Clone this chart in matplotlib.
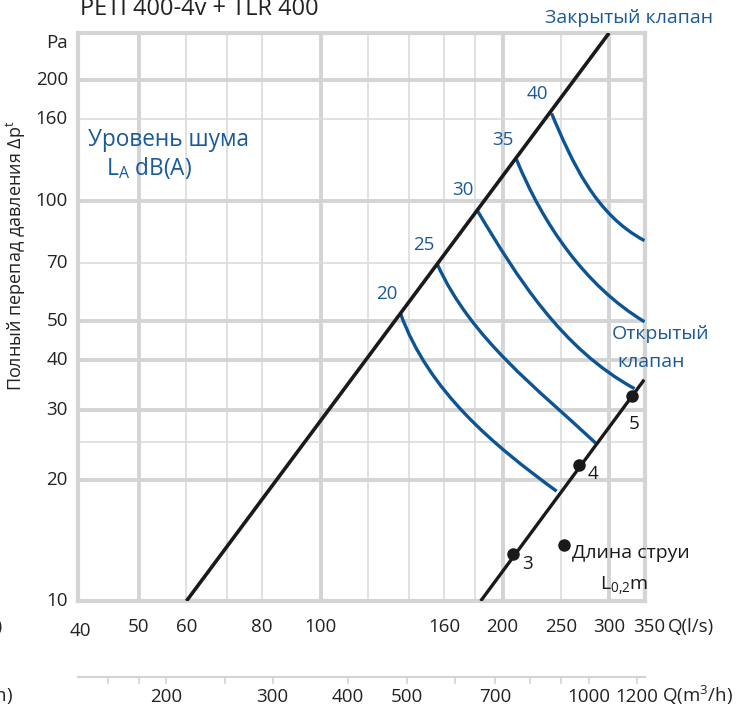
import numpy as np
import matplotlib
matplotlib.use('Agg')
import matplotlib.pyplot as plt
from matplotlib.path import Path
from matplotlib.patches import PathPatch
from matplotlib.ticker import FixedLocator, NullFormatter, FixedFormatter

plt.rcParams['font.family'] = ['Open Sans', 'DejaVu Sans']
plt.rcParams['mathtext.fontset'] = 'custom'
plt.rcParams['mathtext.rm'] = 'Open Sans'
plt.rcParams['mathtext.it'] = 'Open Sans'

BLUE = '#0d5592'
TXT_BLUE = '#1a5a98'
GRID = '#d4d4d4'
DARK = '#1a1a1a'

# axis ticks
q_ticks = [40, 50, 60, 80, 100, 160, 200, 250, 300, 350]
dp_ticks = [10, 20, 30, 40, 50, 70, 100, 160, 200]
m3h_ticks = [160, 180, 200, 250, 300, 400, 500, 600, 700, 800, 900, 1000, 1200]
m3h_labels = ['', '', '200', '', '300', '400', '500', '', '700', '', '', '1000', '1200']

# grid lines (thick = major, thin = minor)
grid_x_major = [50, 100, 200, 300]
grid_x_minor = [60, 70, 80, 120, 140, 160, 180, 250]
grid_y_major = [20, 30, 40, 50, 100, 200]
grid_y_minor = [25, 70, 160]

# valve lines
closed_q = [60, 300]
closed_dp = [10, 262]
open_q = [184, 343]
open_dp = [10, 35.7]

# noise level curves L_A dB(A): start, two inner points, end
noise_levels = ['20', '25', '30', '35', '40']
noise_q = [
    [135.6, 157.2, 193.7, 245.7],
    [156.1, 183.9, 227.4, 285.0],
    [181.2, 213.4, 258.9, 330.6],
    [210.9, 237.8, 279.6, 343.4],
    [241.0, 262.4, 293.3, 343.4],
]
noise_dp = [
    [52.2, 34.85, 24.97, 18.8],
    [69.2, 47.0, 33.8, 24.8],
    [95.0, 64.2, 44.9, 33.9],
    [126.6, 88.4, 64.1, 49.8],
    [165.0, 124.6, 96.4, 79.4],
]

# throw length points L0,2 on open valve line
throw_labels = ['3', '4', '5']
throw_q = [207.7, 268, 327]
throw_dp = [13.1, 21.9, 32.5]
legend_q, legend_dp = 252.5, 13.8


def smooth_curve(q, dp):
    # cubic bezier in log space passing through the four read points
    S, A, B, E = np.column_stack([np.log10(q), np.log10(dp)])
    P1 = (18 * A - 9 * B - 5 * S + 2 * E) / 6
    P2 = (18 * B - 9 * A + 2 * S - 5 * E) / 6
    verts = 10 ** np.array([S, P1, P2, E])
    return Path(verts, [Path.MOVETO, Path.CURVE4, Path.CURVE4, Path.CURVE4])


W, H = 749, 711
fig = plt.figure(figsize=(W / 100, H / 100), dpi=100)
ax = fig.add_axes([78 / W, 1 - 601 / H, (645 - 78) / W, (601 - 33) / H])
ax.set_xscale('log')
ax.set_yscale('log')
ax.set_xlim(39.7, 344)
ax.set_ylim(10, 262)

ax.xaxis.set_major_locator(FixedLocator(grid_x_major))
ax.xaxis.set_minor_locator(FixedLocator(grid_x_minor))
ax.yaxis.set_major_locator(FixedLocator(grid_y_major))
ax.yaxis.set_minor_locator(FixedLocator(grid_y_minor))
for a in (ax.xaxis, ax.yaxis):
    a.set_major_formatter(NullFormatter())
    a.set_minor_formatter(NullFormatter())
ax.tick_params(which='both', length=0)
ax.grid(which='major', color=GRID, lw=2.8)
ax.grid(which='minor', color='#dcdcdc', lw=1.2)
ax.set_axisbelow(True)
for s in ax.spines.values():
    s.set_color(GRID)
    s.set_linewidth(3)

# lines
ax.plot(closed_q, closed_dp, color=DARK, lw=2.6, solid_capstyle='butt', zorder=4)
ax.plot(open_q, open_dp, color=DARK, lw=2.4, solid_capstyle='butt', zorder=4)
for lev, q, dp in zip(noise_levels, noise_q, noise_dp):
    ax.add_patch(PathPatch(smooth_curve(q, dp), facecolor='none', edgecolor=BLUE,
                           lw=2.4, capstyle='butt', zorder=3))
    ax.annotate(lev, (q[0], dp[0]), xytext=(-10, 14), textcoords='offset points',
                ha='center', va='center', color=TXT_BLUE, fontsize=13.5)

ax.plot(throw_q, throw_dp, 'o', color=DARK, ms=8, zorder=5)
offs = [(11, -7), (10, -7), (2, -20)]
for lab, q, dp, o in zip(throw_labels, throw_q, throw_dp, offs):
    ax.annotate(lab, (q, dp), xytext=o, textcoords='offset points',
                ha='center', va='center', color=DARK, fontsize=13.5)
ax.plot([legend_q], [legend_dp], 'o', color=DARK, ms=8, zorder=5, clip_on=False)
ax.annotate('Длина струи', (legend_q, legend_dp), xytext=(6, -6), textcoords='offset points',
            ha='left', va='center', color=DARK, fontsize=14)
ax.annotate(r'L$_{0{,}2}$m', (legend_q, legend_dp), xytext=(26, -29), textcoords='offset points',
            ha='left', va='center', color=DARK, fontsize=14)

# tick labels
xt = ax.get_xaxis_transform()
for q in q_ticks:
    ax.text(q, -0.052 if q == 40 else -0.046, str(q), transform=xt,
            ha='center', va='center', fontsize=13.5, color='#222222')
fig.text(668 / W, 1 - 627 / H, 'Q(l/s)', ha='left', va='center', fontsize=13.5, color='#222222')
yt = ax.get_yaxis_transform()
for d in dp_ticks:
    ax.text(-0.018, d, str(d), transform=yt, ha='right', va='center', fontsize=13.5, color='#222222')
ax.text(-0.018, 247, 'Pa', transform=yt, ha='right', va='center', fontsize=13.5, color='#222222')

# second axis in m3/h
ax2 = fig.add_axes([78 / W, 1 - 677 / H, (645 - 78) / W, 0.0005])
ax2.set_xscale('log')
ax2.set_xlim(39.7 * 3.6, 344 * 3.6)
ax2.patch.set_visible(False)
for k in ('left', 'right', 'top'):
    ax2.spines[k].set_visible(False)
ax2.spines['bottom'].set_color(GRID)
ax2.spines['bottom'].set_linewidth(1.6)
ax2.set_yticks([])
ax2.xaxis.set_major_locator(FixedLocator(m3h_ticks))
ax2.xaxis.set_major_formatter(FixedFormatter(m3h_labels))
ax2.xaxis.set_minor_locator(FixedLocator([]))
ax2.tick_params(axis='x', length=5, width=1.2, color=GRID, pad=3, labelsize=13.5, labelcolor='#222222')
fig.text(662 / W, 1 - 695 / H, r'Q(m$^3$/h)', ha='left', va='center', fontsize=13.5, color='#222222')

# labels cut off at the left edge, as in the source
fig.text(3 / W, 1 - 627 / H, 'Q(l/s)', ha='right', va='center', fontsize=13.5, color='#222222')
fig.text(13 / W, 1 - 695 / H, r'Q(m$^3$/h)', ha='right', va='center', fontsize=13.5, color='#222222')

# texts
fig.text(80 / W, 1 - 15 / H, 'PETI 400-4v + TLR 400', ha='left', va='baseline', fontsize=17, color='#222222')
fig.text(16 / W, 1 - 256 / H, r'Полный перепад давления Δp$^t$', rotation=90,
         ha='center', va='center', fontsize=13, color='#222222')
fig.text(545 / W, 1 - 18 / H, 'Закрытый клапан', ha='left', va='center', fontsize=14, color=TXT_BLUE)
fig.text(612 / W, 1 - 334 / H, 'Открытый', ha='left', va='center', fontsize=14, color=TXT_BLUE)
fig.text(617 / W, 1 - 362 / H, 'клапан', ha='left', va='center', fontsize=14, color=TXT_BLUE)
fig.text(88 / W, 1 - 140 / H, 'Уровень шума', ha='left', va='center', fontsize=16.3, color=TXT_BLUE)
fig.text(106 / W, 1 - 168 / H, r'L$_A$ dB(A)', ha='left', va='center', fontsize=16.3, color=TXT_BLUE)

fig.savefig('out.png', dpi=100)
